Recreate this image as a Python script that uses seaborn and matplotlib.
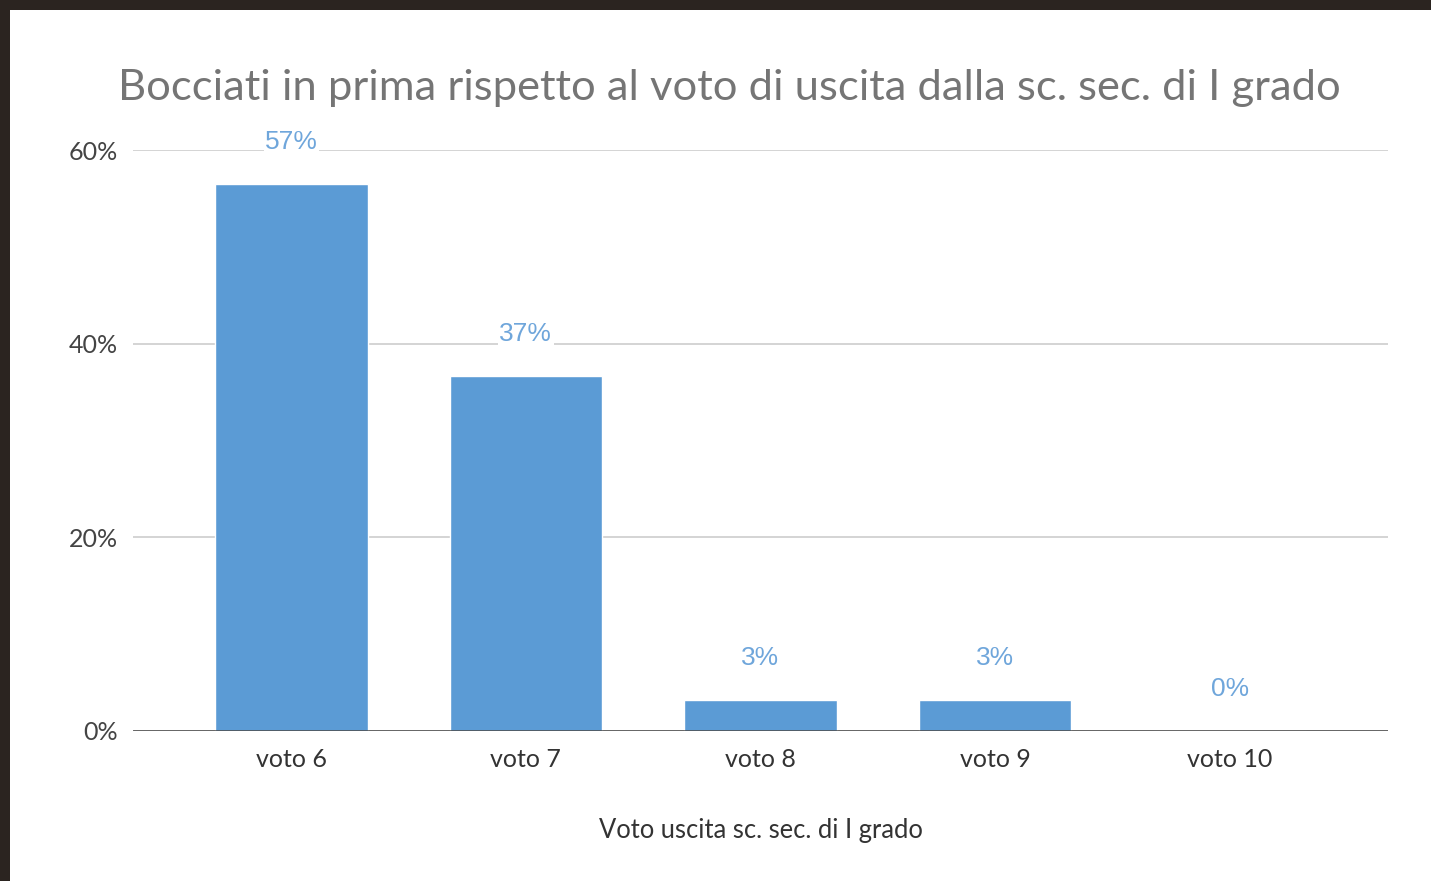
import matplotlib
matplotlib.use("Agg")
import matplotlib.pyplot as plt
from matplotlib.patches import Rectangle
import seaborn as sns

# data
categorie = ["voto 6", "voto 7", "voto 8", "voto 9", "voto 10"]
percentuali = [56.5, 36.7, 3.2, 3.2, 0.0]
etichette = ["57%", "37%", "3%", "3%", "0%"]
y_ticks = [0, 20, 40, 60]

W, H = 1431, 881
sns.set_style("white")
plt.rcParams['font.family'] = ['Lato', 'DejaVu Sans']

fig = plt.figure(figsize=(W / 100, H / 100), dpi=100)
fig.patch.set_facecolor("#2b2420")
# white card inside the dark border
fig.add_artist(Rectangle((10 / W, 0), 1 - 10 / W, 1 - 10 / H, transform=fig.transFigure,
                         facecolor="white", edgecolor="none", zorder=0))

ax = fig.add_axes([133 / W, (H - 731) / H, (1388 - 133) / W, (731 - 150) / H])
ax.set_facecolor("white")

bar_col = "#5b9bd5"
sns.barplot(x=categorie, y=percentuali, color=bar_col, saturation=1, width=0.65, ax=ax, zorder=3)

ax.set_xlim(-0.675, 4.675)
ax.set_ylim(0, 60)
ax.set_yticks(y_ticks)
ax.set_yticklabels([f"{t}%" for t in y_ticks])
ax.grid(axis="y", color="#d4d4d4", linewidth=1.4, zorder=0)
ax.set_axisbelow(True)
for s in ["top", "right", "left", "bottom"]:
    ax.spines[s].set_visible(False)
ax.axhline(0, color="#444444", linewidth=1.8, zorder=4)
ax.tick_params(axis="both", length=0)
ax.tick_params(axis="y", pad=11, labelsize=18, labelcolor="#444444")
ax.tick_params(axis="x", pad=12, labelsize=18, labelcolor="#333333")

# data labels
for i, (v, lab) in enumerate(zip(percentuali, etichette)):
    ax.annotate(lab, (i, v), xytext=(0, 42), textcoords="offset pixels",
                ha="center", va="center", fontsize=19, color="#6fa6db",
                family=["Liberation Sans", "DejaVu Sans"],
                bbox=dict(facecolor="white", edgecolor="none", pad=1), zorder=5)

ax.set_xlabel("Voto uscita sc. sec. di I grado", fontsize=18.4, color="#333333", labelpad=34)
ax.set_ylabel("")

fig.text(729 / W, 1 - 88 / H, "Bocciati in prima rispetto al voto di uscita dalla sc. sec. di I grado",
         ha="center", va="center", fontsize=31.3, color="#757575")

fig.savefig("out.png", dpi=100, facecolor=fig.get_facecolor())
